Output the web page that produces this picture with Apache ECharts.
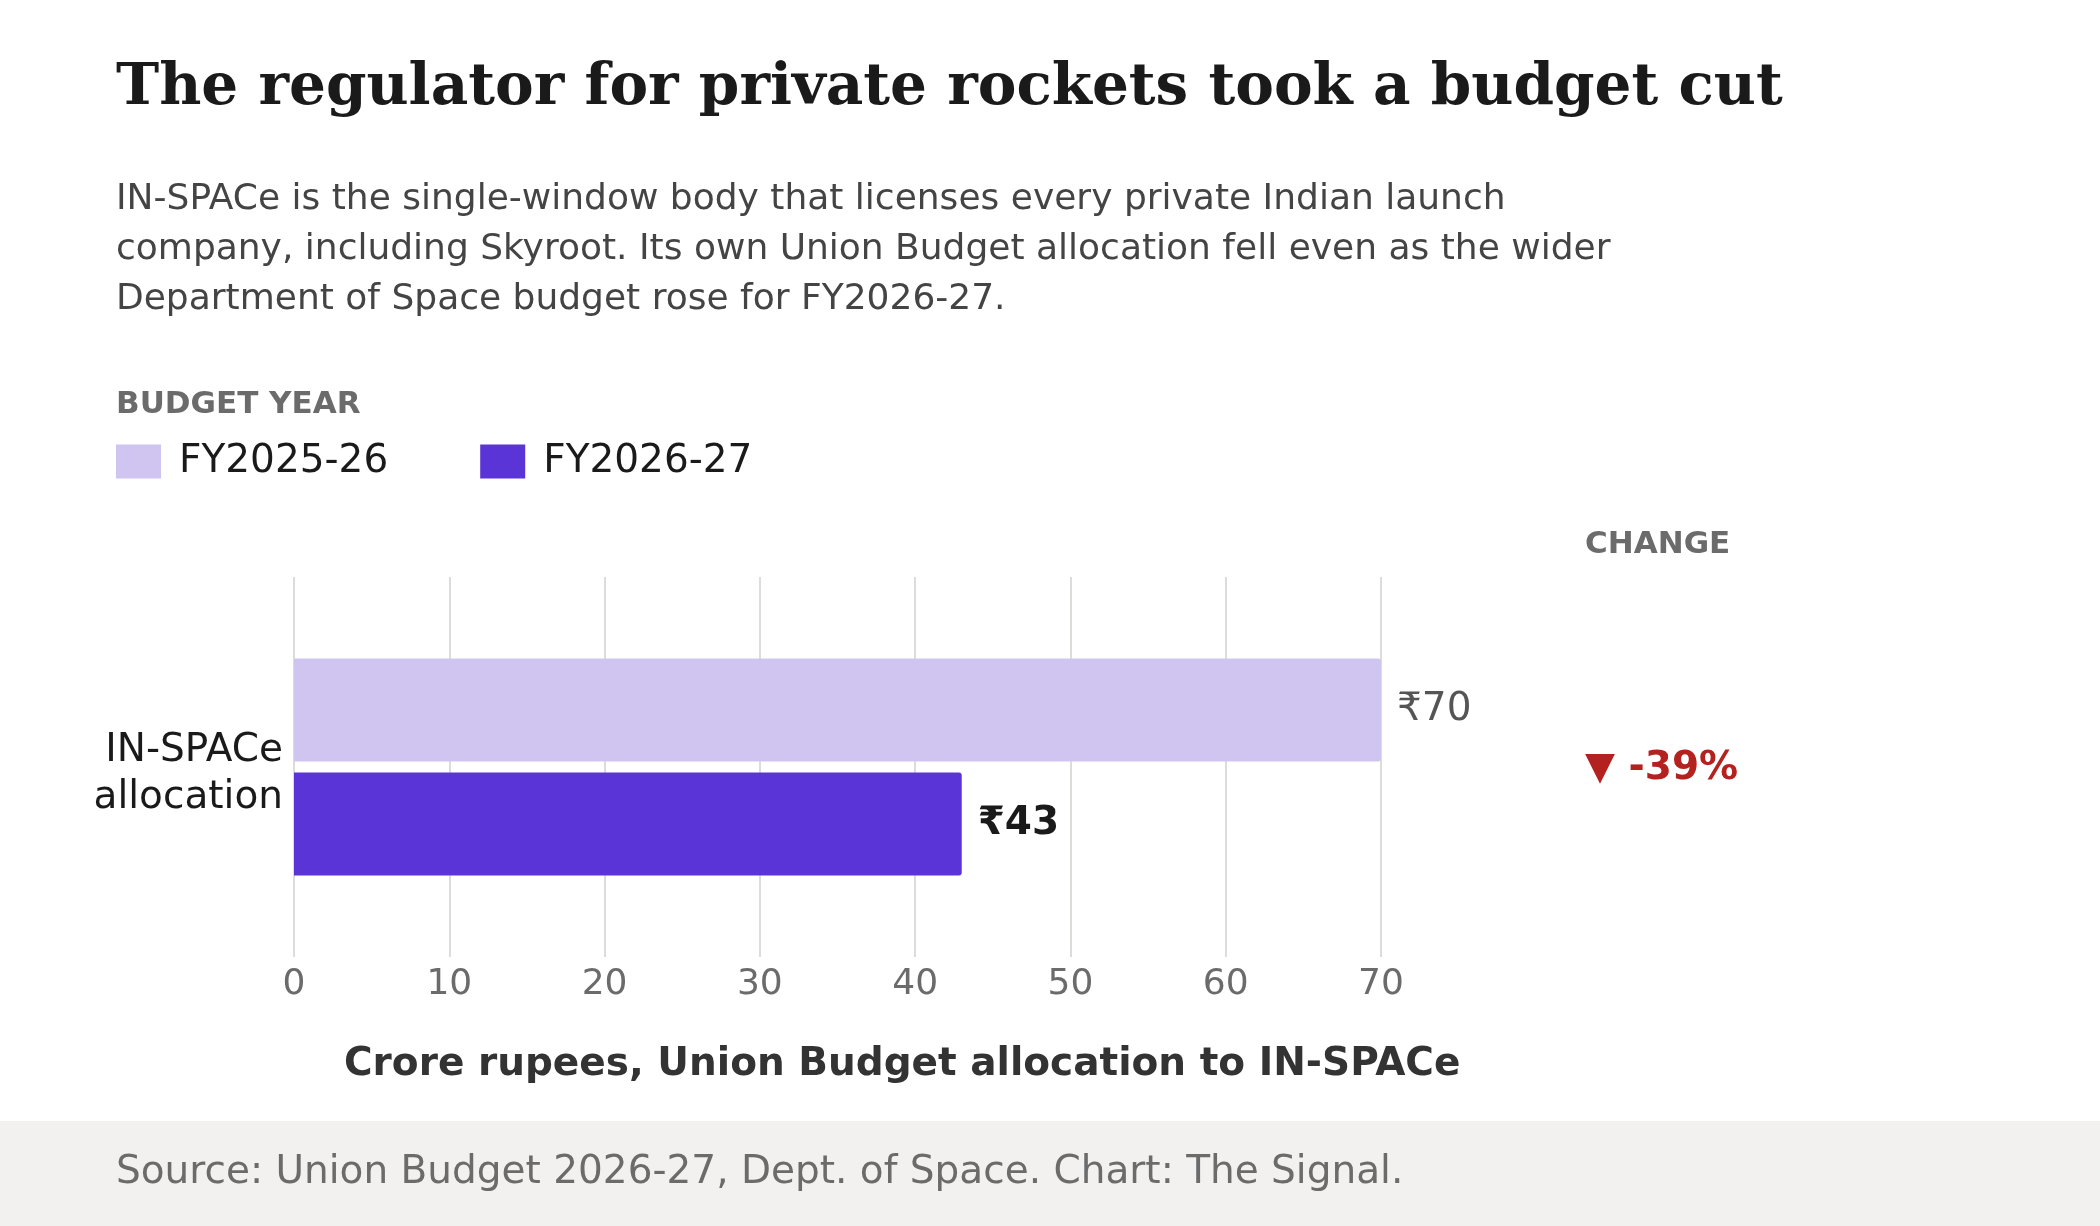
<!DOCTYPE html>
<html>
<head>
<meta charset="utf-8">
<title>IN-SPACe budget</title>
<script src="https://cdn.jsdelivr.net/npm/echarts@6/dist/echarts.min.js"></script>
<style>
  html, body { margin: 0; padding: 0; background: #fff; }
  #chart { width: 2100px; height: 1226px; }
</style>
</head>
<body>
<div id="chart"></div>
<script>
  // data
  const categories = ['IN-SPACe\nallocation'];
  const seriesNames = ['FY2025-26', 'FY2026-27'];
  const fy2526 = [70];
  const fy2627 = [43];
  const xTicks = [0, 10, 20, 30, 40, 50, 60, 70];

  const change = Math.round((fy2627[0] - fy2526[0]) / fy2526[0] * 100);
  const sans = 'DejaVu Sans';

  let chart = echarts.init(document.getElementById('chart'));
  let option = {
    backgroundColor: '#ffffff',
    animation: false,
    title: [
      {
        text: 'The regulator for private rockets took a budget cut',
        left: 116, top: 60, padding: 0,
        textStyle: { fontFamily: 'DejaVu Serif', fontWeight: 'bold', fontSize: 58, color: '#1a1a1a' }
      },
      {
        text: 'IN-SPACe is the single-window body that licenses every private Indian launch\n' +
              'company, including Skyroot. Its own Union Budget allocation fell even as the wider\n' +
              'Department of Space budget rose for FY2026-27.',
        left: 116, top: 175, padding: 0,
        textStyle: { fontFamily: sans, fontWeight: 'normal', fontSize: 36, lineHeight: 50, color: '#444444' }
      },
      {
        text: 'BUDGET YEAR',
        left: 116, top: 389, padding: 0,
        textStyle: { fontFamily: sans, fontWeight: 'bold', fontSize: 31, color: '#6b6b6b' }
      }
    ],
    legend: {
      left: 116, top: 442,
      icon: 'rect',
      itemWidth: 45, itemHeight: 34,
      itemGap: 92,
      padding: 0,
      data: seriesNames,
      textStyle: { fontFamily: sans, fontSize: 39, color: '#1a1a1a', padding: [0, 0, 0, 13] }
    },
    grid: { left: 294, right: 719, top: 577, bottom: 269 },
    xAxis: {
      type: 'value',
      min: xTicks[0], max: xTicks[xTicks.length - 1], interval: 10,
      axisLine: { show: false },
      axisTick: { show: false },
      splitLine: { lineStyle: { color: '#dcdcd8', width: 2 } },
      axisLabel: { fontFamily: sans, fontSize: 36, color: '#6b6b6b', margin: 10 }
    },
    yAxis: {
      type: 'category',
      data: categories,
      inverse: true,
      axisLine: { show: false },
      axisTick: { show: false },
      axisLabel: {
        margin: 11, align: 'right',
        // a thin spacer line on top nudges the two-line label down a little
        formatter: v => '{e| }\n' + v.split('\n').map(s => '{b|' + s + '}').join('\n'),
        rich: {
          e: { fontSize: 10, lineHeight: 14 },
          b: { fontFamily: sans, fontSize: 39, lineHeight: 47, color: '#1a1a1a' }
        }
      }
    },
    series: [
      {
        name: seriesNames[0],
        type: 'bar',
        data: fy2526,
        barWidth: 103,
        barGap: '10.7%',
        itemStyle: { color: '#d0c5f0', borderRadius: [0, 3, 3, 0] },
        label: {
          show: true, position: 'right', distance: 16,
          formatter: '₹{c}',
          fontFamily: sans, fontSize: 39, color: '#555555'
        }
      },
      {
        name: seriesNames[1],
        type: 'bar',
        data: fy2627,
        barWidth: 103,
        barGap: '10.7%',
        itemStyle: { color: '#5a34d6', borderRadius: [0, 3, 3, 0] },
        label: {
          show: true, position: 'right', distance: 16,
          formatter: '₹{c}',
          fontFamily: sans, fontSize: 39, fontWeight: 'bold', color: '#1a1a1a'
        }
      }
    ],
    graphic: [
      {
        type: 'text', left: 1585, top: 529,
        style: { text: 'CHANGE', fontFamily: sans, fontWeight: 'bold', fontSize: 31, fill: '#6b6b6b' }
      },
      {
        type: 'text', left: 1585, top: 749,
        style: { text: '▼ ' + change + '%', fontFamily: sans, fontWeight: 'bold', fontSize: 39, fill: '#b3221e' }
      },
      {
        type: 'text', left: 344, top: 1045,
        style: { text: 'Crore rupees, Union Budget allocation to IN-SPACe', fontFamily: sans, fontWeight: 'bold', fontSize: 39, fill: '#333333' }
      },
      {
        type: 'rect', left: 0, top: 1121, z: -1,
        shape: { width: 2100, height: 105 },
        style: { fill: '#f2f1ef' }
      },
      {
        type: 'text', left: 116, top: 1153,
        style: { text: 'Source: Union Budget 2026-27, Dept. of Space. Chart: The Signal.', fontFamily: sans, fontSize: 39, fill: '#6b6b6b' }
      }
    ]
  };
  chart.setOption(option);
  window.addEventListener('resize', () => { chart.resize(); });
</script>
</body>
</html>
